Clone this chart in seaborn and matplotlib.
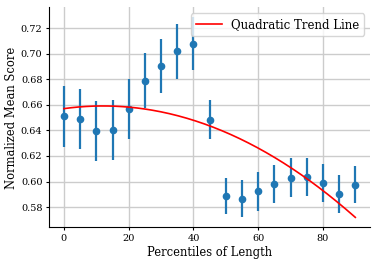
import numpy as np
import pandas as pd
import seaborn as sns
import matplotlib
matplotlib.use("Agg")
import matplotlib.pyplot as plt

percentiles = [0, 5, 10, 15, 20, 25, 30, 35, 40, 45, 50, 55, 60, 65, 70, 75, 80, 85, 90]
mean_scores = [0.651, 0.649, 0.6395, 0.6405, 0.657, 0.679, 0.6905, 0.702, 0.708, 0.6485,
               0.5886, 0.5866, 0.5923, 0.5979, 0.6031, 0.6034, 0.5989, 0.5902, 0.5976]
errors = [0.024, 0.0233, 0.0235, 0.0235, 0.0235, 0.0217, 0.021, 0.0215, 0.0205, 0.015,
          0.014, 0.0145, 0.015, 0.015, 0.015, 0.015, 0.015, 0.015, 0.0145]

plt.rcParams["font.family"] = ["DejaVu Serif"]
plt.rcParams["font.size"] = 8.3

df = pd.DataFrame({"pct": percentiles, "score": mean_scores, "err": errors})

# quadratic fit of the means
coef = np.polyfit(df["pct"], df["score"], 2)
xs = np.linspace(df["pct"].min(), df["pct"].max(), 200)
trend = pd.DataFrame({"pct": xs, "score": np.polyval(coef, xs)})

fig, ax = plt.subplots(figsize=(3.74, 2.65), dpi=100)
fig.subplots_adjust(left=0.132, right=0.989, bottom=0.142, top=0.972)

ax.errorbar(df["pct"], df["score"], yerr=df["err"], fmt="o", color="#1f77b4",
            markersize=4.5, elinewidth=1.6, zorder=3)
sns.lineplot(data=trend, x="pct", y="score", color="red", linewidth=1.2,
             label="Quadratic Trend Line", ax=ax, zorder=4)

ax.grid(True, color="#cccccc", linewidth=1)
ax.set_axisbelow(True)
ax.set_xticks([0, 20, 40, 60, 80])
ax.set_yticks([0.58, 0.60, 0.62, 0.64, 0.66, 0.68, 0.70, 0.72])
ax.tick_params(labelsize=7, length=2.5, pad=2.5)
ax.set_xlabel("Percentiles of Length", labelpad=2)
ax.set_ylabel("Normalized Mean Score", labelpad=2)
ax.legend(loc="upper right", fontsize=8.5, handlelength=2.2)
sns.despine(ax=ax)

fig.savefig("out.png", dpi=100)
